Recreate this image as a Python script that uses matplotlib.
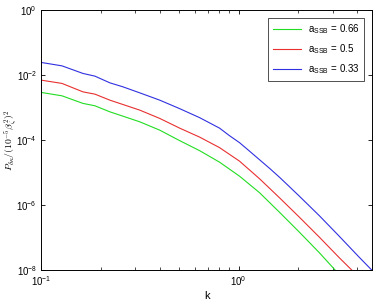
import matplotlib.pyplot as plt
from matplotlib.ticker import LogLocator, NullLocator

plt.rcParams['font.family'] = ['Liberation Sans', 'DejaVu Sans']
plt.rcParams['mathtext.fontset'] = 'cm'

# values (log-log)
k_blue = [0.1, 0.1276, 0.163, 0.1874, 0.2231, 0.2596, 0.3162, 0.399, 0.5035, 0.6353,
          0.8017, 0.9005, 1.0117, 1.137, 1.2766, 1.434, 1.611, 1.810, 2.033, 2.566,
          3.236, 4.084, 4.735]
p_blue = [2.46e-2, 1.93e-2, 1.127e-2, 9.31e-3, 5.79e-3, 4.37e-3, 2.85e-3, 1.70e-3, 9.31e-4, 4.92e-4,
          2.34e-4, 1.37e-4, 8.38e-5, 4.59e-5, 2.51e-5, 1.37e-5, 7.27e-6, 3.71e-6, 1.89e-6, 4.75e-7,
          1.11e-7, 2.51e-8, 1.0e-8]

k_red = [0.1, 0.1276, 0.163, 0.1874, 0.2231, 0.2596, 0.3162, 0.399, 0.5035, 0.6353,
         0.8017, 1.0117, 1.2766, 1.611, 2.033, 2.566, 3.236, 3.752]
p_red = [7.02e-3, 5.56e-3, 3.06e-3, 2.60e-3, 1.70e-3, 1.25e-3, 8.38e-4, 4.66e-4, 2.34e-4, 1.24e-4,
         5.88e-5, 2.26e-5, 6.53e-6, 1.70e-6, 4.27e-7, 1.04e-7, 2.43e-8, 1.0e-8]

k_green = [0.1, 0.1276, 0.163, 0.1874, 0.2231, 0.2596, 0.3162, 0.399, 0.5035, 0.6353,
           0.8017, 1.0117, 1.2766, 1.611, 2.033, 2.566, 3.090]
p_green = [2.94e-3, 2.31e-3, 1.35e-3, 1.14e-3, 7.43e-4, 5.47e-4, 3.66e-4, 2.03e-4, 9.66e-5, 4.75e-5,
           2.10e-5, 7.80e-6, 2.43e-6, 6.09e-7, 1.48e-7, 3.45e-8, 1.0e-8]

labels = ['a$_{\\mathdefault{SSB}}$ = 0.66', 'a$_{\\mathdefault{SSB}}$ = 0.5',
          'a$_{\\mathdefault{SSB}}$ = 0.33']

fig = plt.figure(figsize=(3.77, 3.07), dpi=100)
ax = fig.add_axes([0.109, 0.12, 0.878, 0.847])

ax.plot(k_green, p_green, color='#22dd22', lw=0.8, label=labels[0])
ax.plot(k_red, p_red, color='#e83030', lw=0.8, label=labels[1])
ax.plot(k_blue, p_blue, color='#3030e0', lw=0.8, label=labels[2])

ax.set_xscale('log')
ax.set_yscale('log')
ax.set_xlim(0.1, 4.75)
ax.set_ylim(1e-8, 1)
ax.set_yticks([1e-8, 1e-6, 1e-4, 1e-2, 1])
ax.yaxis.set_minor_locator(NullLocator())
ax.xaxis.set_major_locator(LogLocator(base=10))
ax.xaxis.set_minor_locator(LogLocator(base=10, subs=range(2, 10)))
ax.tick_params(which='both', direction='in', top=True, right=True, labelsize=7)
ax.tick_params(which='major', length=3, width=0.6, pad=3)
ax.tick_params(which='minor', length=2, width=0.5)
for s in ax.spines.values():
    s.set_linewidth(0.7)

ax.set_xlabel('k', fontsize=8, labelpad=2)
ax.set_ylabel(r'$P_{\delta\kappa}/(10^{-5}\beta_\zeta^2)^2$', fontsize=7)
ax.yaxis.set_label_coords(-0.07, 0.5)

leg = ax.legend(loc='upper right', fontsize=7, fancybox=False, edgecolor='black',
                handlelength=2.9, handletextpad=0.7, labelspacing=0.65,
                borderaxespad=0.8, borderpad=0.5)
leg.get_frame().set_linewidth(0.6)

fig.savefig('out.png')
